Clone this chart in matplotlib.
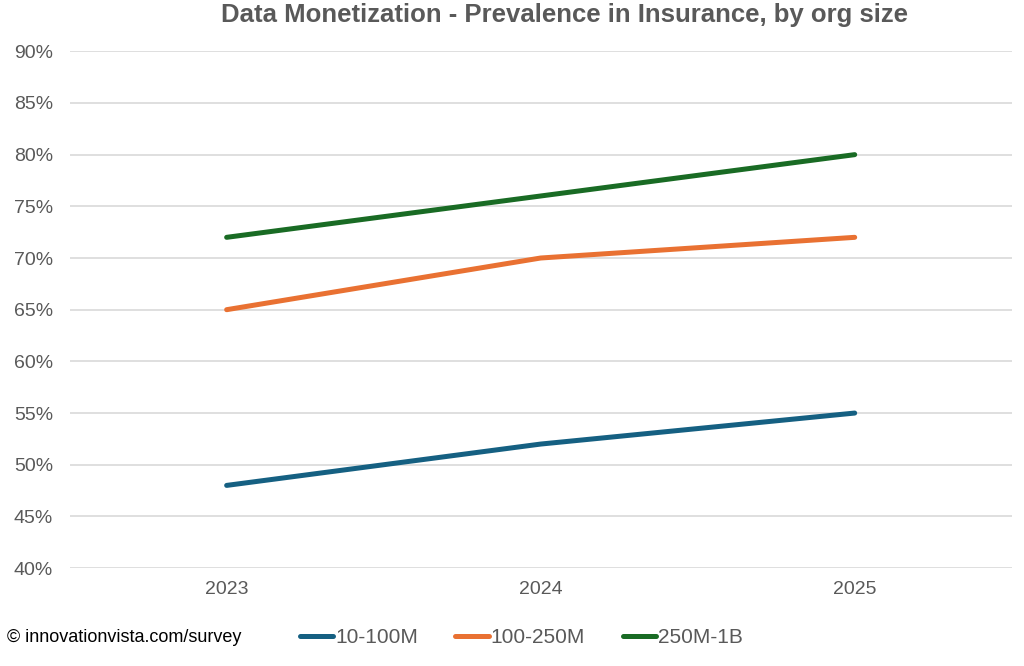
import matplotlib
matplotlib.use('Agg')
from matplotlib import pyplot as plt
from matplotlib.ticker import PercentFormatter

# data
years = ['2023', '2024', '2025']
small = [48, 52, 55]
medium = [65, 70, 72]
large = [72, 76, 80]
series_names = ['10-100M', '100-250M', '250M-1B']
colors = ['#156082', '#E97132', '#196B24']

plt.rcParams['font.family'] = ['Liberation Sans', 'DejaVu Sans']

fig = plt.figure(figsize=(10.24, 6.66), dpi=100)
ax = fig.add_axes([0.068, 0.147, 0.920, 0.776])

x = range(len(years))
for vals, name, c in zip([small, medium, large], series_names, colors):
	ax.plot(x, vals, color=c, linewidth=3.6, label=name, solid_capstyle='round', zorder=3)

ax.set_xlim(-0.5, len(years) - 0.5)
ax.set_ylim(40, 90)
ax.set_yticks(range(40, 91, 5))
ax.yaxis.set_major_formatter(PercentFormatter(decimals=0))
ax.set_xticks(list(x))
ax.set_xticklabels(years)
ax.grid(axis='y', color='#D9D9D9', linewidth=1.2, zorder=0)
for s in ax.spines.values():
	s.set_visible(False)
ax.tick_params(length=0, labelsize=14, colors='#595959', pad=9)
ax.tick_params(axis='y', pad=12)

fig.text(0.551, 0.977, 'Data Monetization - Prevalence in Insurance, by org size',
	ha='center', va='center', fontsize=18.5, fontweight='bold', color='#595959')

fig.text(0.007, 0.043, '\u00a9 innovationvista.com/survey', ha='left', va='center',
	fontsize=13, color='#000000')

fig.legend(loc='center', bbox_to_anchor=(0.509, 0.043), ncol=3, frameon=False,
	fontsize=15, handlelength=1.6, handletextpad=0.1, columnspacing=1.8,
	labelcolor='#595959')

fig.savefig('out.png', dpi=100)
